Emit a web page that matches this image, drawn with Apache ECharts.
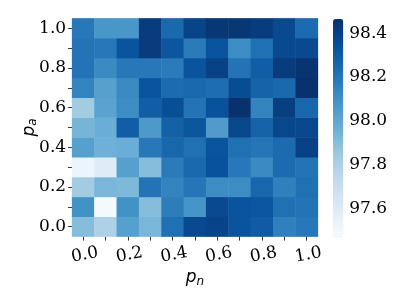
<!DOCTYPE html>
<html>
<head>
<meta charset="utf-8">
<script src="https://cdn.jsdelivr.net/npm/echarts@6/dist/echarts.min.js"></script>
<style>
html,body{margin:0;padding:0;background:#fff;}
#c{width:407px;height:305px;}
</style>
</head>
<body>
<div id="c"></div>
<script>
// categories
var pnLabels = ['0.0','0.1','0.2','0.3','0.4','0.5','0.6','0.7','0.8','0.9','1.0'];
var paLabels = ['0.0','0.1','0.2','0.3','0.4','0.5','0.6','0.7','0.8','0.9','1.0'];
// heatmap values, one row per p_a (from 0.0 up to 1.0), columns p_n 0.0..1.0
var row_pa00 = [97.90,97.79,98.03,97.93,98.22,98.37,98.39,98.33,98.30,98.16,98.19];
var row_pa01 = [98.09,97.48,98.09,97.90,98.17,98.08,98.37,98.33,98.32,98.22,98.21];
var row_pa02 = [97.83,97.93,97.92,98.21,98.15,98.20,98.11,98.11,98.26,98.16,98.22];
var row_pa03 = [97.52,97.59,98.03,97.90,98.18,98.25,98.34,98.19,98.12,98.24,98.21];
var row_pa04 = [98.03,97.96,97.97,98.19,98.26,98.22,98.33,98.22,98.20,98.24,98.40];
var row_pa05 = [97.94,97.97,98.29,98.06,98.28,98.32,98.05,98.38,98.27,98.38,98.38];
var row_pa06 = [97.83,98.02,98.11,98.29,98.35,98.21,98.34,98.46,98.15,98.41,98.26];
var row_pa07 = [98.15,98.03,98.12,98.33,98.24,98.25,98.23,98.36,98.27,98.25,98.46];
var row_pa08 = [98.21,98.12,98.19,98.19,98.18,98.33,98.40,98.21,98.29,98.42,98.45];
var row_pa09 = [98.21,98.19,98.33,98.42,98.32,98.18,98.33,98.11,98.22,98.37,98.37];
var row_pa10 = [98.19,98.07,98.07,98.42,98.25,98.39,98.44,98.44,98.42,98.37,98.24];
// colorbar
var cbarMin = 97.47, cbarMax = 98.465;
var cbarTicks = [97.6, 97.8, 98.0, 98.2, 98.4];
var bluesColors = ['#f7fbff','#deebf7','#c6dbef','#9ecae1','#6baed6','#4292c6','#2171b5','#08519c','#08306b'];

var rows = [row_pa00,row_pa01,row_pa02,row_pa03,row_pa04,row_pa05,row_pa06,row_pa07,row_pa08,row_pa09,row_pa10];
var data = [];
rows.forEach(function(r, yi){ r.forEach(function(v, xi){ data.push([xi, yi, v]); }); });

var serif = 'DejaVu Serif';
var nameRich = {
  p: {fontFamily:'DejaVu Sans', fontStyle:'italic', fontSize:17, color:'#000'},
  s: {fontFamily:'DejaVu Sans', fontStyle:'italic', fontSize:12, color:'#000', padding:[8,0,0,0]}
};

var chart = echarts.init(document.getElementById('c'), null, {renderer:'canvas'});
chart.setOption({
  animation: false,
  backgroundColor: '#fff',
  grid: [
    {left: 72.1, top: 18.4, width: 245.8, height: 218.2},
    {left: 333, top: 19, width: 10.3, height: 217.7}
  ],
  xAxis: [
    {type:'category', gridIndex:0, data: pnLabels, position:'bottom',
     axisLine:{show:false}, splitLine:{show:false}, splitArea:{show:false},
     axisTick:{show:true, interval:0, alignWithLabel:true, length:4, lineStyle:{color:'#333'}},
     axisLabel:{interval:1, rotate:10, align:'center', verticalAlign:'top', margin:10, fontFamily:serif, fontSize:17, color:'#000'},
     name:'{p|p}{s|n}', nameLocation:'middle', nameGap:31, nameMoveOverlap:false, nameTextStyle:{rich:nameRich}},
    {type:'value', gridIndex:1, show:false, min:0, max:1}
  ],
  yAxis: [
    {type:'category', gridIndex:0, data: paLabels,
     axisLine:{show:false}, splitLine:{show:false}, splitArea:{show:false},
     axisTick:{show:true, interval:0, alignWithLabel:true, length:4, lineStyle:{color:'#333'}},
     axisLabel:{interval:1, margin:6, fontFamily:serif, fontSize:17, color:'#000'},
     name:'{p|p}{s|a}', nameLocation:'middle', nameRotate:90, nameGap:33, nameMoveOverlap:false, nameTextStyle:{rich:nameRich}},
    {type:'value', gridIndex:1, position:'right', min:cbarMin, max:cbarMax,
     axisLine:{show:false}, splitLine:{show:false},
     axisTick:{show:true, length:4, customValues: cbarTicks, lineStyle:{color:'#333'}},
     axisLabel:{show:true, margin:6, customValues: cbarTicks, fontFamily:serif, fontSize:17, color:'#000',
       formatter:function(v){return v.toFixed(1);}}}
  ],
  visualMap: {
    type:'continuous', min:cbarMin, max:cbarMax, calculable:false, show:true,
    orient:'vertical', left:333, top:19, itemWidth:10.3, itemHeight:217.7, padding:0,
    text:null, showLabel:false, seriesIndex:0, hoverLink:false,
    inRange:{color: bluesColors}
  },
  series: [{
    type:'heatmap', xAxisIndex:0, yAxisIndex:0, data:data,
    itemStyle:{borderWidth:0}, emphasis:{disabled:true}
  }]
});
</script>
</body>
</html>
